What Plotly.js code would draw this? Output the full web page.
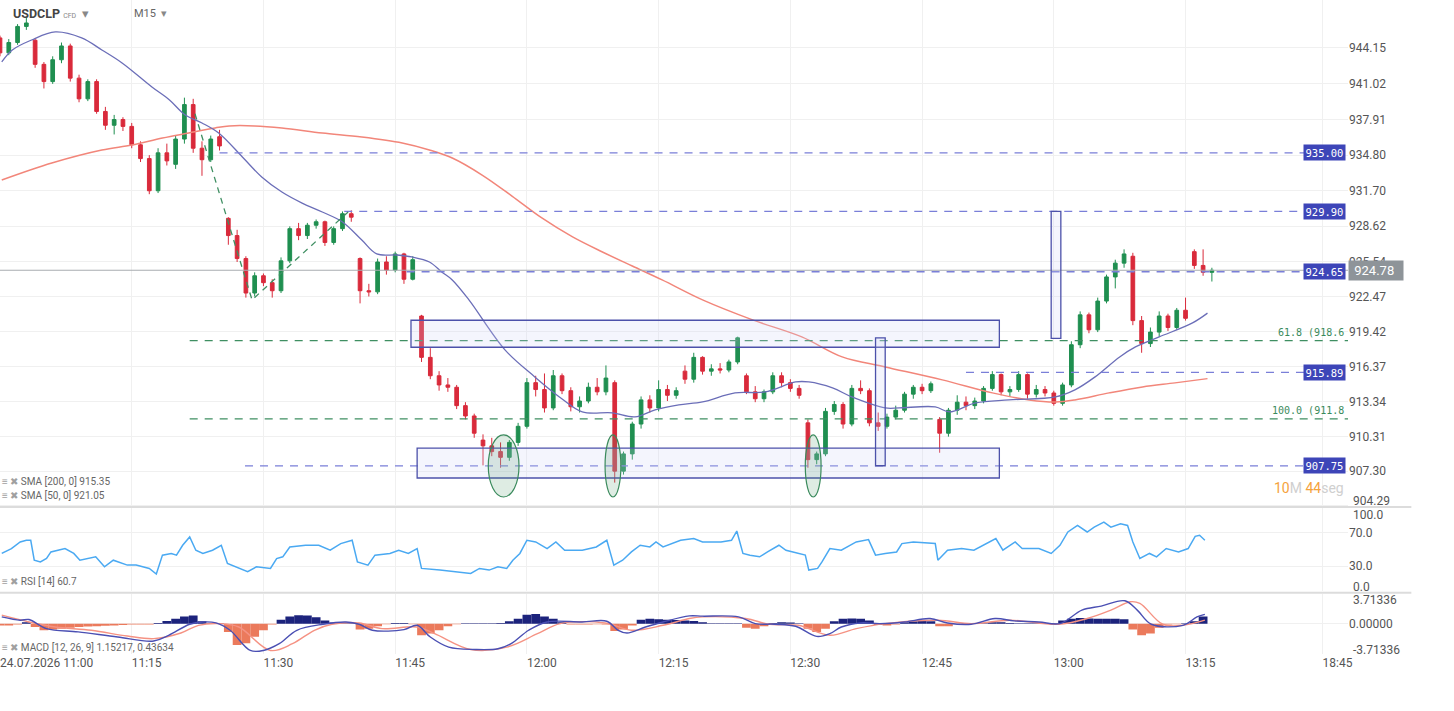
<!DOCTYPE html>
<html><head><meta charset="utf-8">
<script src="https://cdn.plot.ly/plotly-3.0.1.min.js"></script>
<style>html,body{margin:0;padding:0;background:#fff}#chart{width:1454px;height:711px}</style>
</head><body><div id="chart"></div>
<script>
// ---- time axis (minutes after 11:00) ----
const tickMinutes = [0, 15, 30, 45, 60, 75, 90, 105, 120, 135, 150.6];
const tickLabels = ["24.07.2026 11:00", "11:15", "11:30", "11:45", "12:00", "12:15", "12:30", "12:45", "13:00", "13:15", "18:45"];

// ---- price axis ----
const priceTicks = [944.15, 941.02, 937.91, 934.80, 931.70, 928.62, 925.54, 922.47, 919.42, 916.37, 913.34, 910.31, 907.30, 904.29];

// ---- candles (one per minute) ----
const openP = [945.0,943.7,944.6,946.0,944.8,942.7,941.2,943.1,944.3,941.5,939.7,941.2,938.6,937.4,937.9,937.3,935.7,934.5,931.7,935.0,
934.0,936.2,939.2,935.4,934.4,936.4,929.3,927.8,925.8,922.8,924.3,923.7,923.0,925.6,928.4,927.8,928.7,929.0,927.2,928.4,
929.7,925.8,923.0,922.9,925.5,924.8,926.2,924.0,920.8,917.2,915.6,914.8,914.6,913.0,912.1,910.0,909.5,909.0,908.5,909.8,
911.2,915.0,914.4,912.8,915.6,914.3,912.9,913.4,914.6,914.2,915.0,907.3,908.8,911.4,913.5,912.8,914.4,913.9,916.0,915.3,
917.2,916.0,916.2,916.1,916.8,915.6,914.2,913.6,914.2,915.6,915.0,914.5,911.5,908.3,908.8,912.5,913.1,911.4,914.5,914.3,
911.5,911.2,912.0,912.6,914.0,914.6,914.3,911.8,910.6,912.6,913.3,913.0,913.4,914.5,915.7,914.2,914.4,915.7,914.0,914.4,
914.1,913.2,914.8,918.3,920.9,919.6,922.1,924.2,925.4,926.0,920.4,918.4,919.4,920.8,919.8,921.3,926.4,925.2,924.6];
const highP = [945.2,944.9,946.2,946.8,945.0,942.9,943.4,944.6,944.5,941.8,941.4,941.4,939.0,938.3,938.1,937.6,936.0,934.8,935.4,935.8,
936.5,939.8,939.7,936.0,936.5,937.0,929.4,928.3,926.0,924.6,924.5,924.0,925.9,928.6,928.9,928.9,929.2,929.1,928.6,929.9,
930.0,925.9,923.6,925.8,926.0,926.4,926.3,926.0,920.9,918.0,916.0,915.4,914.8,913.3,912.3,910.5,910.2,909.8,910.0,911.5,
915.4,915.6,915.8,916.1,915.8,914.6,913.8,915.0,915.4,916.5,915.2,909.0,911.6,913.8,913.9,915.2,914.8,914.6,916.5,917.6,
917.3,916.6,916.7,917.0,919.0,915.8,914.7,914.4,915.9,915.9,915.3,914.8,911.8,909.0,912.8,913.4,913.3,914.8,915.2,914.5,
912.4,912.3,913.0,914.2,914.8,914.9,915.1,912.0,912.8,913.9,913.8,913.7,914.7,916.0,915.8,914.7,916.0,915.8,914.8,914.7,
914.3,915.0,918.6,921.2,921.1,922.4,924.4,925.7,926.6,926.3,920.8,919.8,921.2,921.0,921.5,922.4,926.6,926.6,925.0];
const lowP = [943.4,943.5,944.4,945.7,942.4,940.6,941.0,942.8,941.2,939.4,939.5,938.4,937.0,936.6,936.9,935.4,934.2,931.4,931.5,933.9,
933.6,935.8,935.0,933.0,934.2,935.2,927.0,925.5,922.4,922.5,923.4,922.4,922.8,925.4,927.4,927.5,928.4,926.9,927.0,928.2,
929.0,921.9,922.5,922.7,924.4,924.6,923.6,923.9,916.8,915.3,914.3,914.2,912.7,911.8,910.2,907.8,908.6,907.6,908.2,909.5,
911.0,913.8,912.4,912.6,914.0,912.5,912.4,913.2,913.9,913.9,906.3,907.0,908.3,911.0,912.4,912.5,913.4,913.6,914.9,915.0,
915.7,915.6,915.8,915.9,916.6,914.0,913.3,913.3,914.0,914.6,914.2,913.6,907.6,907.9,908.6,912.2,911.0,911.2,914.0,911.2,
910.8,911.0,911.8,912.4,913.6,914.0,914.1,908.9,910.3,912.2,912.6,912.7,913.2,914.3,913.9,913.8,914.2,913.6,913.7,913.8,
913.0,913.0,914.6,918.0,919.3,919.4,921.9,923.2,925.0,920.0,917.6,918.1,919.0,919.5,919.6,920.4,924.9,924.3,923.8];
const closeP = [943.7,944.6,946.0,946.3,942.7,941.2,943.1,944.3,941.5,939.7,941.2,938.6,937.4,937.9,937.3,935.7,934.5,931.7,935.0,934.3,
936.2,939.2,935.4,934.4,936.2,935.6,927.8,925.8,922.8,924.3,923.7,923.0,925.6,928.4,927.8,928.7,929.0,927.2,928.4,929.7,
929.4,923.0,922.9,925.5,924.8,926.2,924.0,925.7,917.2,915.6,914.8,914.6,913.0,912.1,910.6,909.5,909.0,908.5,909.8,911.2,
915.0,914.4,912.8,915.6,914.3,912.9,913.4,914.6,914.2,915.4,907.3,908.8,911.4,913.5,912.8,914.4,913.9,914.3,915.3,917.2,
916.0,916.2,916.1,916.8,918.9,914.2,913.6,914.2,915.6,915.0,914.5,913.9,908.3,908.8,912.5,913.1,911.4,914.5,914.3,911.5,
911.2,912.0,912.6,914.0,914.6,914.3,914.9,910.6,912.6,913.3,913.0,913.4,914.5,915.7,914.2,914.4,915.7,914.0,914.4,914.1,
913.2,914.8,918.3,920.9,919.6,922.1,924.2,925.4,926.2,920.4,918.4,919.4,920.8,919.8,921.3,920.6,925.2,924.6,924.78];

// ---- moving averages [minute, value] ----
const sma50 = [[0.2,942.91],[1.4,943.95],[3.6,944.82],[6.3,945.52],[9.3,945.0],[11.6,943.95],[13.9,942.82],[17.3,940.73],[19.3,939.6],[21.1,938.29],
[23.0,937.6],[24.9,936.73],[27.6,934.64],[29.8,932.9],[32.1,931.59],[34.4,930.63],[36.7,929.85],[39.0,928.98],[41.2,927.41],[42.9,926.2],
[45.2,926.11],[46.9,925.94],[48.9,925.5],[50.3,924.63],[51.5,923.94],[53.4,922.2],[57.5,917.85],[60.9,915.5],[63.7,913.76],[66.3,912.45],
[69.7,912.37],[72.3,912.02],[74.6,912.63],[77.3,913.06],[80.0,913.32],[83.7,914.11],[87.1,914.19],[90.6,915.06],[92.1,915.06],[94.8,914.54],
[97.0,913.76],[100.8,912.8],[102.4,912.8],[106.5,912.89],[108.1,912.45],[111.1,913.24],[114.9,913.5],[120.2,913.76],[122.4,914.37],[124.7,915.5],
[127.5,917.24],[129.3,918.11],[132.0,918.98],[135.8,920.2],[137.5,921.05]];
const sma200 = [[0.2,932.64],[5.9,934.12],[11.6,935.25],[15.0,935.68],[18.5,936.29],[21.5,936.73],[24.5,937.16],[26.1,937.34],[29.0,937.34],[32.1,937.16],
[36.7,936.73],[41.2,936.38],[45.8,935.86],[48.9,935.25],[51.5,934.55],[54.9,933.07],[58.3,931.24],[61.7,929.33],[65.2,927.68],[68.6,926.37],
[72.0,925.15],[75.4,923.94],[80.0,922.2],[85.7,920.46],[91.3,918.98],[95.9,917.24],[100.8,916.37],[107.3,915.24],[113.0,914.11],[117.2,913.5],
[120.2,913.32],[122.4,913.5],[126.3,914.11],[130.1,914.63],[133.8,914.98],[137.5,915.35]];

// ---- RSI [minute, value] ----
const rsi = [[0.2,45],[1.3,50.8],[2.3,58.6],[3.0,60.6],[3.5,60.6],[3.9,37],[4.6,35],[5.3,39],[5.8,46.8],[7.4,50.8],[8.4,45],[9.1,37],[10.9,41],[11.9,29.2],[12.9,37],
[14.5,31.2],[15.5,31.2],[17.0,27.3],[17.8,20.6],[18.5,43],[19.5,45],[20.1,43],[20.8,54.7],[21.6,64.5],[22.3,48.8],[23.1,45],[24.2,48.8],[25.2,54.7],[25.9,33.2],
[27.2,27.3],[28.2,23.4],[29.2,29.2],[30.8,27.3],[31.5,39],[32.2,41],[33.0,52.7],[34.8,54.7],[36.3,54.7],[37.6,48.8],[38.8,56.7],[40.1,60.6],[40.7,35],[41.9,31.2],
[42.7,43],[44.4,45],[45.4,48.8],[46.5,45],[47.5,50.8],[48.0,27.3],[50.1,25.3],[51.6,23.4],[53.6,21.4],[54.6,27.3],[55.7,25.3],[56.7,29.2],[57.7,27.3],[58.4,37],
[59.2,45],[60.0,60.6],[61.0,58.6],[62.3,50.8],[63.3,58.6],[64.3,48.8],[66.3,48.8],[67.9,52.7],[69.1,60.6],[69.9,31.2],[70.9,37],[71.9,46.8],[72.9,54.7],[74.0,52.7],
[74.7,58.6],[75.5,52.7],[76.5,56.7],[77.5,60.6],[79.0,62.6],[80.0,58.6],[82.1,58.6],[83.3,60.6],[83.9,71.5],[84.6,45],[85.4,43],[86.5,41],[87.4,46.8],[88.7,54.7],
[89.5,48.8],[90.9,45],[91.7,43],[92.1,25.3],[93.1,27.3],[93.6,35],[94.5,50.8],[95.8,48.8],[97.5,58.6],[98.9,61.4],[99.7,43],[100.8,45],[102.1,46.8],[102.7,56.7],
[104.0,58.6],[106.5,56.7],[106.8,37],[107.9,48.8],[109.5,50.8],[110.9,48.8],[112.3,56.7],[113.4,62.6],[114.2,48.8],[115.6,58.6],[116.4,50.8],[118.3,50.8],[119.7,45],
[120.7,54.7],[121.6,70.4],[122.7,78.2],[123.8,70.4],[124.6,76.2],[125.7,82.1],[126.5,76.2],[127.6,80.2],[128.4,78.2],[129.0,58.6],[129.8,39],[130.9,45],[131.7,41],
[132.8,50.8],[134.2,46.8],[135.3,50.8],[136.1,65.3],[136.6,66.5],[137.2,60.7]];

// ---- MACD [minute, value] ----
const macdLine = [[0.2,0.84],[2.3,0.43],[3.3,0.52],[5.3,-0.6],[8.9,-1.0],[13.4,-1.63],[17.5,-2.12],[19.2,-1.42],[21.6,-0.06],[23.1,0.22],[24.6,0.1],[26.2,-0.8],
[28.5,-3.28],[30.0,-3.28],[31.8,-2.45],[33.8,-0.8],[36.8,-0.06],[39.4,0.22],[40.9,-0.06],[42.4,-0.8],[46.0,-0.72],[47.5,-0.19],[49.0,-1.63],[51.1,-2.87],
[54.1,-3.16],[56.7,-3.07],[58.2,-2.45],[60.2,-0.8],[62.3,0.22],[66.3,0.22],[69.1,0.31],[70.4,-0.8],[71.4,-1.14],[73.5,-0.4],[75.5,0.22],[78.5,0.97],[80.0,0.93],
[84.1,0.84],[86.0,0.02],[88.2,-0.06],[90.6,-0.31],[93.0,-1.55],[94.5,-1.21],[95.8,-0.4],[98.0,0.1],[100.2,0.02],[103.0,0.22],[105.9,0.64],[107.9,0.1],[110.6,-0.06],
[113.3,0.64],[115.5,0.35],[118.3,0.22],[120.7,0.02],[123.2,1.67],[125.4,2.17],[128.1,2.82],[129.5,1.67],[131.1,-0.06],[134.7,-0.19],[136.3,0.84],[137.2,1.15]];
const signalLine = [[0.2,1.05],[3.3,0.22],[6.3,-0.4],[10.4,-0.8],[14.5,-1.51],[17.5,-1.83],[20.6,-1.14],[22.6,-0.19],[25.1,0.02],[27.2,-0.4],[30.8,-3.28],[33.3,-2.45],
[35.8,-0.8],[37.8,-0.06],[40.9,0.1],[43.5,-0.6],[47.5,-0.4],[49.5,-1.21],[53.6,-3.16],[57.7,-2.87],[61.2,-1.21],[63.8,0.02],[68.9,0.1],[71.9,-0.8],[75.5,-0.19],
[78.5,0.64],[80.0,0.84],[84.9,0.64],[87.6,-0.06],[90.9,-0.19],[94.5,-1.42],[97.5,-0.6],[100.8,0.02],[106.8,0.43],[110.6,0.02],[115.0,0.43],[120.5,-0.06],[123.8,0.64],
[126.5,1.67],[128.7,2.7],[129.8,2.5],[132.4,-0.06],[134.7,-0.19],[137.2,0.44]];
const macdHist = [-0.2,-0.2,-0.1,0.2,-0.4,-0.8,-0.7,-0.6,-0.5,-0.4,-0.35,-0.3,-0.25,-0.2,-0.15,-0.1,-0.1,-0.1,0.1,0.35,
0.6,0.9,1.0,0.3,0.05,0.05,-1.0,-2.6,-2.4,-1.6,-0.8,-0.1,0.5,0.9,1.05,1.0,0.8,0.4,0.15,0.05,
0.05,-0.7,-0.6,-0.3,-0.05,0.1,0.1,-0.05,-1.4,-1.2,-0.8,-0.3,-0.05,0.05,0.05,0.05,0.05,0.1,0.3,0.6,
1.1,1.2,0.9,0.6,0.2,-0.1,-0.1,-0.1,-0.05,-0.1,-0.9,-0.7,-0.2,0.5,0.6,0.55,0.5,0.45,0.4,0.35,
0.2,0.05,0.05,0.05,0.05,-0.5,-0.6,-0.3,0.1,0.2,0.15,0.05,-0.6,-1.0,-0.6,0.3,0.6,0.65,0.6,0.4,
-0.15,-0.2,-0.1,0.2,0.3,0.35,0.3,-0.3,-0.3,-0.05,0.05,0.05,0.05,0.2,0.2,0.1,0.05,0.05,0.05,0.05,
0.05,0.4,0.6,0.7,0.65,0.6,0.6,0.6,0.55,-0.7,-1.4,-1.2,-0.5,-0.1,-0.05,0.05,0.3,0.9];

// ---- drawing levels ----
const levelPrices = [935.00, 929.90, 924.65, 915.89, 907.75];
const levelStart = [25.0, 39.2, 46.3, 110.0, 27.9];
const levelEnd = 148.6;
const fibLevels = [918.65, 911.85];
const fibLabels = ["61.8 (918.6", "100.0 (911.8"];
const fibStart = 21.6;
const fibPathT = [22.2, 28.7, 39.7];
const fibPathP = [938.4, 922.2, 929.9];
const lastPrice = 924.78;
const rectT0 = [46.8, 47.5, 99.7, 119.7];
const rectT1 = [113.8, 113.8, 100.8, 120.8];
const rectLow = [918.08, 906.7, 907.77, 918.86];
const rectHigh = [920.43, 909.3, 918.9, 929.9];
const ellT0 = [55.6, 68.9, 91.7];
const ellT1 = [59.1, 70.7, 93.5];
const ellLow = [905.05, 905.05, 905.05];
const ellHigh = [910.45, 910.45, 910.45];

// ---- build ----
const candleT = closeP.map((_, i) => i);
const font = "Roboto, 'Open Sans', sans-serif";
const blue = "#7a7fd8";
const traces = [];

traces.push({type: "candlestick", x: candleT, open: openP, high: highP, low: lowP, close: closeP,
  xaxis: "x", yaxis: "y",
  increasing: {line: {color: "#1f8f50", width: 1}, fillcolor: "#1f8f50"},
  decreasing: {line: {color: "#d92a3b", width: 1}, fillcolor: "#d92a3b"},
  whiskerwidth: 0, hoverinfo: "skip"});

traces.push({type: "scatter", mode: "lines", x: sma200.map(p => p[0]), y: sma200.map(p => p[1]),
  line: {color: "#f2867a", width: 1.5, shape: "spline"}, xaxis: "x", yaxis: "y", hoverinfo: "skip"});
traces.push({type: "scatter", mode: "lines", x: sma50.map(p => p[0]), y: sma50.map(p => p[1]),
  line: {color: "#6b6eb8", width: 1.3, shape: "spline"}, xaxis: "x", yaxis: "y", hoverinfo: "skip"});

levelPrices.forEach((p, i) => traces.push({type: "scatter", mode: "lines", x: [levelStart[i], levelEnd], y: [p, p],
  line: {color: blue, width: 1.3, dash: "8px,7px"}, xaxis: "x", yaxis: "y", hoverinfo: "skip"}));
fibLevels.forEach(p => traces.push({type: "scatter", mode: "lines", x: [fibStart, 153.5], y: [p, p],
  line: {color: "#3f8f62", width: 1.2, dash: "8px,7px"}, xaxis: "x", yaxis: "y", hoverinfo: "skip"}));
traces.push({type: "scatter", mode: "lines", x: fibPathT, y: fibPathP,
  line: {color: "#3f8f62", width: 1.3, dash: "6px,5px"}, xaxis: "x", yaxis: "y", hoverinfo: "skip"});
traces.push({type: "scatter", mode: "lines", x: [0, 153.5], y: [lastPrice, lastPrice],
  line: {color: "#a8acb0", width: 1.2}, xaxis: "x", yaxis: "y", hoverinfo: "skip"});

traces.push({type: "scatter", mode: "lines", x: rsi.map(p => p[0]), y: rsi.map(p => p[1]),
  line: {color: "#4aa9f2", width: 1.5}, xaxis: "x2", yaxis: "y2", hoverinfo: "skip"});

traces.push({type: "bar", x: candleT.slice(0, macdHist.length), y: macdHist, width: 1,
  marker: {color: macdHist.map(v => v >= 0 ? "#1c237c" : "#eb7a5c"), line: {width: 0}},
  xaxis: "x3", yaxis: "y3", hoverinfo: "skip"});
traces.push({type: "scatter", mode: "lines", x: signalLine.map(p => p[0]), y: signalLine.map(p => p[1]),
  line: {color: "#f59283", width: 1.4, shape: "spline"}, xaxis: "x3", yaxis: "y3", hoverinfo: "skip"});
traces.push({type: "scatter", mode: "lines", x: macdLine.map(p => p[0]), y: macdLine.map(p => p[1]),
  line: {color: "#4a4fb3", width: 1.4, shape: "spline"}, xaxis: "x3", yaxis: "y3", hoverinfo: "skip"});

const shapes = [];
rectT0.forEach((t, i) => shapes.push({type: "rect", xref: "x", yref: "y", x0: t, x1: rectT1[i], y0: rectLow[i], y1: rectHigh[i],
  line: {color: "#4c51aa", width: 1.3}, fillcolor: "rgba(205,210,245,0.22)", layer: "above"}));
ellT0.forEach((t, i) => shapes.push({type: "circle", xref: "x", yref: "y", x0: t, x1: ellT1[i], y0: ellLow[i], y1: ellHigh[i],
  line: {color: "#3a8a5c", width: 1.2}, fillcolor: "rgba(70,150,100,0.18)", layer: "above"}));
[0.2248, 0.0935].forEach(yy => shapes.push({type: "line", xref: "paper", yref: "paper", x0: 0, x1: 1.047, y0: yy, y1: yy,
  line: {color: "#dcdcdc", width: 2}}));

const annotations = [];
const boxFont = {family: "'DejaVu Sans Mono', monospace", size: 10.5, color: "#ffffff"};
levelPrices.forEach(p => annotations.push({xref: "paper", yref: "y", x: 1, y: p, xanchor: "right", yanchor: "middle", xshift: -2,
  text: p.toFixed(2), showarrow: false, font: boxFont, bgcolor: "#3d45b8", borderpad: 1.5}));
fibLevels.forEach((p, i) => annotations.push({xref: "paper", yref: "y", x: 1, y: p, xanchor: "right", yanchor: "bottom", xshift: -2, yshift: 1,
  text: fibLabels[i], showarrow: false, font: {family: "'DejaVu Sans Mono', monospace", size: 10, color: "#3a8a5c"}}));
annotations.push({xref: "paper", yref: "y", x: 1, y: lastPrice, xanchor: "left", yanchor: "middle", xshift: 0,
  text: "&nbsp;" + lastPrice.toFixed(2) + "&nbsp;&nbsp;", showarrow: false, font: {family: font, size: 13, color: "#ffffff"}, bgcolor: "#8e9499", borderpad: 2});
annotations.push({xref: "paper", yref: "paper", x: 1, y: 0.2538, xanchor: "right", yanchor: "middle", xshift: -2,
  text: "<span style='color:#f5a23c'>10</span><span style='color:#cfcfcf'>M</span> <span style='color:#f5a23c'>44</span><span style='color:#cfcfcf'>seg</span>",
  showarrow: false, font: {family: font, size: 14}});
// axis end labels pushed inside their panels
[["y", 904.29, "904.29", 5], ["y2", 100, "100.0", -8], ["y2", 0, "0.0", 4], ["y3", 3.71336, "3.71336", -6], ["y3", -3.71336, "-3.71336", 4]].forEach(a =>
  annotations.push({xref: "paper", yref: a[0], x: 1, y: a[1], xanchor: "left", yanchor: "middle", xshift: 3, yshift: a[3],
    text: a[2], showarrow: false, font: {family: font, size: 12, color: "#555"}}));
const icon = "<span style='color:#a0a0a0'>≡ ✖</span> ";
[["SMA [200, 0] 915.35", 0.263], ["SMA [50, 0] 921.05", 0.2431], ["RSI [14] 60.7", 0.1116], ["MACD [12, 26, 9] 1.15217, 0.43634", 0.0092]].forEach(l =>
  annotations.push({xref: "paper", yref: "paper", x: 0, y: l[1], xanchor: "left", yanchor: "middle",
    text: icon + l[0], showarrow: false, font: {family: font, size: 10, color: "#666"}}));
annotations.push({xref: "paper", yref: "paper", x: 0.0085, y: 0.979, xanchor: "left", yanchor: "middle",
  text: "<b>USDCLP</b> <span style='font-size:7px;color:#888'>CFD</span>  <span style='color:#888'>▾</span>",
  showarrow: false, font: {family: font, size: 12.5, color: "#444"}});
annotations.push({xref: "paper", yref: "paper", x: 0.098, y: 0.979, xanchor: "left", yanchor: "middle",
  text: "M15  <span style='color:#888'>▾</span>", showarrow: false, font: {family: font, size: 11, color: "#666"}});

const gridC = "#f0f0f0";
const xBase = {range: [0, 153.5], tickvals: tickMinutes, showgrid: true, gridcolor: gridC, zeroline: false, showline: false, ticks: "", fixedrange: true};
const layout = {
  width: 1454, height: 711,
  margin: {l: 0, r: 106, t: 0, b: 57},
  paper_bgcolor: "#ffffff", plot_bgcolor: "#ffffff",
  showlegend: false, hovermode: false,
  boxgap: 0.58, boxgroupgap: 0,
  xaxis: Object.assign({}, xBase, {anchor: "y", showticklabels: false, rangeslider: {visible: false}}),
  xaxis2: Object.assign({}, xBase, {anchor: "y2", matches: "x", showticklabels: false}),
  xaxis3: Object.assign({}, xBase, {anchor: "y3", matches: "x", showticklabels: true, ticktext: tickLabels,
    ticklabelposition: "outside right", tickfont: {family: font, size: 12, color: "#555"}}),
  yaxis: {domain: [0.2248, 1], range: [904.18, 948.3], side: "right", tickvals: priceTicks,
    ticktext: priceTicks.map((v, i) => i === priceTicks.length - 1 ? "" : v.toFixed(2)),
    showgrid: true, gridcolor: gridC, zeroline: false, ticks: "", tickfont: {family: font, size: 12, color: "#555"}},
  yaxis2: {domain: [0.0956, 0.2248], range: [0, 100], side: "right", tickvals: [70, 30], ticktext: ["70.0", "30.0"],
    showgrid: true, gridcolor: gridC, zeroline: false, ticks: "", tickfont: {family: font, size: 12, color: "#555"}},
  yaxis3: {domain: [0, 0.0925], range: [-3.71336, 3.71336], side: "right", tickvals: [3.71336, 0, -3.71336], ticktext: ["", "0.00000", ""],
    showgrid: true, gridcolor: gridC, zeroline: false, ticks: "", tickfont: {family: font, size: 12, color: "#555"}},
  shapes: shapes,
  annotations: annotations
};
Plotly.newPlot("chart", traces, layout, {displayModeBar: false, staticPlot: true});
</script>
</body></html>
